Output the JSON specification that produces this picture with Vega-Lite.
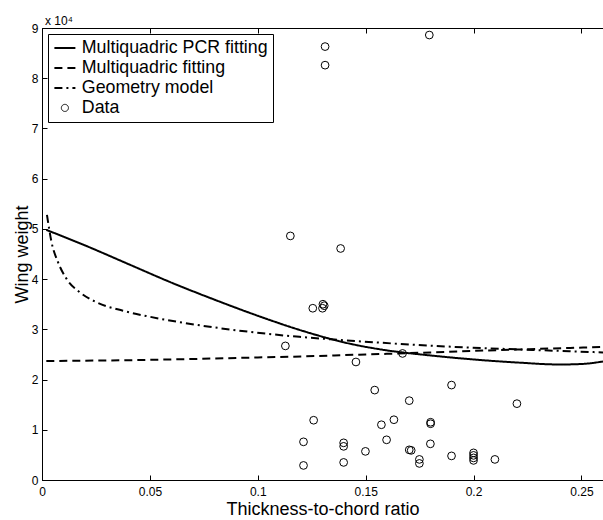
{
  "$schema": "https://vega.github.io/schema/vega-lite/v6.json",
  "width": 561,
  "height": 452,
  "autosize": {"type": "none"},
  "padding": {"left": 42, "top": 28, "right": 0, "bottom": 40},
  "background": "white",
  "title": {"text": "x 10⁴", "anchor": "start", "frame": "group", "fontSize": 12, "fontWeight": "normal", "font": "Liberation Sans", "color": "black", "offset": -6, "dx": 3},
  "config": {
    "view": {"stroke": "black", "strokeWidth": 1},
    "font": "Liberation Sans",
    "axis": {"labelFont": "Liberation Sans", "titleFont": "Liberation Sans", "labelColor": "black", "titleColor": "black", "domainColor": "black", "tickColor": "black", "grid": false, "titleFontWeight": "normal"}
  },
  "datasets": {
    "curves": [
      {"series": "Multiquadric PCR fitting", "ratio": 0.002, "weight": 49800},
      {"series": "Multiquadric PCR fitting", "ratio": 0.02, "weight": 46700},
      {"series": "Multiquadric PCR fitting", "ratio": 0.04, "weight": 43000},
      {"series": "Multiquadric PCR fitting", "ratio": 0.06, "weight": 39300},
      {"series": "Multiquadric PCR fitting", "ratio": 0.08, "weight": 35900},
      {"series": "Multiquadric PCR fitting", "ratio": 0.1, "weight": 32700},
      {"series": "Multiquadric PCR fitting", "ratio": 0.12, "weight": 29800},
      {"series": "Multiquadric PCR fitting", "ratio": 0.14, "weight": 27400},
      {"series": "Multiquadric PCR fitting", "ratio": 0.16, "weight": 25800},
      {"series": "Multiquadric PCR fitting", "ratio": 0.18, "weight": 24800},
      {"series": "Multiquadric PCR fitting", "ratio": 0.2, "weight": 24000},
      {"series": "Multiquadric PCR fitting", "ratio": 0.22, "weight": 23400},
      {"series": "Multiquadric PCR fitting", "ratio": 0.24, "weight": 23000},
      {"series": "Multiquadric PCR fitting", "ratio": 0.25, "weight": 23100},
      {"series": "Multiquadric PCR fitting", "ratio": 0.26, "weight": 23600},
      {"series": "Multiquadric fitting", "ratio": 0.002, "weight": 23700},
      {"series": "Multiquadric fitting", "ratio": 0.03, "weight": 23800},
      {"series": "Multiquadric fitting", "ratio": 0.06, "weight": 24000},
      {"series": "Multiquadric fitting", "ratio": 0.1, "weight": 24400},
      {"series": "Multiquadric fitting", "ratio": 0.12, "weight": 24600},
      {"series": "Multiquadric fitting", "ratio": 0.15, "weight": 25000},
      {"series": "Multiquadric fitting", "ratio": 0.18, "weight": 25400},
      {"series": "Multiquadric fitting", "ratio": 0.2, "weight": 25700},
      {"series": "Multiquadric fitting", "ratio": 0.23, "weight": 26100},
      {"series": "Multiquadric fitting", "ratio": 0.26, "weight": 26500},
      {"series": "Geometry model", "ratio": 0.0023, "weight": 52800},
      {"series": "Geometry model", "ratio": 0.0044, "weight": 47400},
      {"series": "Geometry model", "ratio": 0.0074, "weight": 43400},
      {"series": "Geometry model", "ratio": 0.0113, "weight": 40100},
      {"series": "Geometry model", "ratio": 0.0175, "weight": 37400},
      {"series": "Geometry model", "ratio": 0.0252, "weight": 35400},
      {"series": "Geometry model", "ratio": 0.0375, "weight": 33700},
      {"series": "Geometry model", "ratio": 0.05, "weight": 32500},
      {"series": "Geometry model", "ratio": 0.0731, "weight": 30800},
      {"series": "Geometry model", "ratio": 0.0884, "weight": 29900},
      {"series": "Geometry model", "ratio": 0.1193, "weight": 28500},
      {"series": "Geometry model", "ratio": 0.1378, "weight": 27900},
      {"series": "Geometry model", "ratio": 0.1656, "weight": 27100},
      {"series": "Geometry model", "ratio": 0.1965, "weight": 26400},
      {"series": "Geometry model", "ratio": 0.2273, "weight": 25900},
      {"series": "Geometry model", "ratio": 0.26, "weight": 25400}
    ],
    "points": [
      {"ratio": 0.1312, "weight": 86300},
      {"ratio": 0.1312, "weight": 82600},
      {"ratio": 0.1795, "weight": 88600},
      {"ratio": 0.1151, "weight": 48600},
      {"ratio": 0.1384, "weight": 46100},
      {"ratio": 0.1255, "weight": 34200},
      {"ratio": 0.1300, "weight": 34200},
      {"ratio": 0.1308, "weight": 34700},
      {"ratio": 0.1302, "weight": 35000},
      {"ratio": 0.1128, "weight": 26700},
      {"ratio": 0.1455, "weight": 23500},
      {"ratio": 0.1671, "weight": 25200},
      {"ratio": 0.1542, "weight": 17900},
      {"ratio": 0.1702, "weight": 15800},
      {"ratio": 0.1259, "weight": 11900},
      {"ratio": 0.1573, "weight": 11000},
      {"ratio": 0.1631, "weight": 12000},
      {"ratio": 0.1801, "weight": 11200},
      {"ratio": 0.1801, "weight": 11500},
      {"ratio": 0.1212, "weight": 7600},
      {"ratio": 0.1398, "weight": 7400},
      {"ratio": 0.1398, "weight": 6700},
      {"ratio": 0.1597, "weight": 8000},
      {"ratio": 0.1499, "weight": 5700},
      {"ratio": 0.1702, "weight": 6000},
      {"ratio": 0.1711, "weight": 5900},
      {"ratio": 0.1800, "weight": 7200},
      {"ratio": 0.1749, "weight": 4100},
      {"ratio": 0.1749, "weight": 3300},
      {"ratio": 0.1212, "weight": 2900},
      {"ratio": 0.1398, "weight": 3500},
      {"ratio": 0.1898, "weight": 18900},
      {"ratio": 0.2201, "weight": 15200},
      {"ratio": 0.1898, "weight": 4800},
      {"ratio": 0.2000, "weight": 5400},
      {"ratio": 0.2000, "weight": 4900},
      {"ratio": 0.2000, "weight": 4400},
      {"ratio": 0.2000, "weight": 3900},
      {"ratio": 0.2099, "weight": 4100}
    ]
  },
  "layer": [
    {
      "data": {"name": "curves"},
      "mark": {"type": "line", "color": "black", "strokeWidth": 2, "interpolate": "monotone"},
      "encoding": {
        "x": {
          "field": "ratio", "type": "quantitative",
          "scale": {"domain": [0, 0.26], "nice": false, "zero": false},
          "axis": {"orient": "bottom", "values": [0, 0.05, 0.1, 0.15, 0.2, 0.25], "format": "~g", "title": "Thickness-to-chord ratio", "labelFontSize": 12, "titleFontSize": 18, "tickSize": -5, "labelPadding": 11, "titlePadding": 3, "labelFlush": false}
        },
        "y": {
          "field": "weight", "type": "quantitative",
          "scale": {"domain": [0, 90000], "nice": false},
          "axis": {"values": [0, 10000, 20000, 30000, 40000, 50000, 60000, 70000, 80000, 90000], "labelExpr": "datum.value / 10000", "title": "Wing weight", "labelFontSize": 12, "titleFontSize": 18, "tickSize": -5, "labelPadding": 9, "titlePadding": 0, "labelFlush": false}
        },
        "strokeDash": {
          "field": "series", "type": "nominal",
          "scale": {
            "domain": ["Multiquadric PCR fitting", "Multiquadric fitting", "Geometry model", "Data"],
            "range": [[1, 0], [8, 5], [8, 4, 2, 4], [1, 0]]
          },
          "legend": {
            "title": null,
            "orient": "top-left",
            "offset": 6,
            "padding": 5,
            "strokeColor": "black",
            "fillColor": "white",
            "labelFont": "Liberation Sans",
            "labelFontSize": 17.8,
            "labelColor": "black",
            "labelOffset": 8,
            "labelLimit": 400,
            "rowPadding": 1,
            "symbolOffset": 3,
            "symbolType": "stroke",
            "symbolSize": 441,
            "symbolStrokeWidth": 2,
            "symbolStrokeColor": "black",
            "encode": {
              "symbols": {
                "update": {
                  "shape": {"signal": "datum.value === 'Data' ? 'circle' : 'stroke'"},
                  "size": {"signal": "datum.value === 'Data' ? 50 : 441"},
                  "strokeWidth": {"signal": "datum.value === 'Data' ? 1 : 2"},
                  "fill": {"value": "transparent"},
                  "stroke": {"value": "black"}
                }
              }
            }
          }
        }
      }
    },
    {
      "data": {"name": "points"},
      "mark": {"type": "point", "shape": "circle", "filled": false, "color": "black", "size": 60, "strokeWidth": 1, "opacity": 1},
      "encoding": {
        "x": {"field": "ratio", "type": "quantitative", "axis": {"orient": "top", "labels": false, "title": null, "domain": false, "tickSize": -5, "values": [0, 0.05, 0.1, 0.15, 0.2, 0.25]}},
        "y": {"field": "weight", "type": "quantitative"}
      }
    }
  ]
}
